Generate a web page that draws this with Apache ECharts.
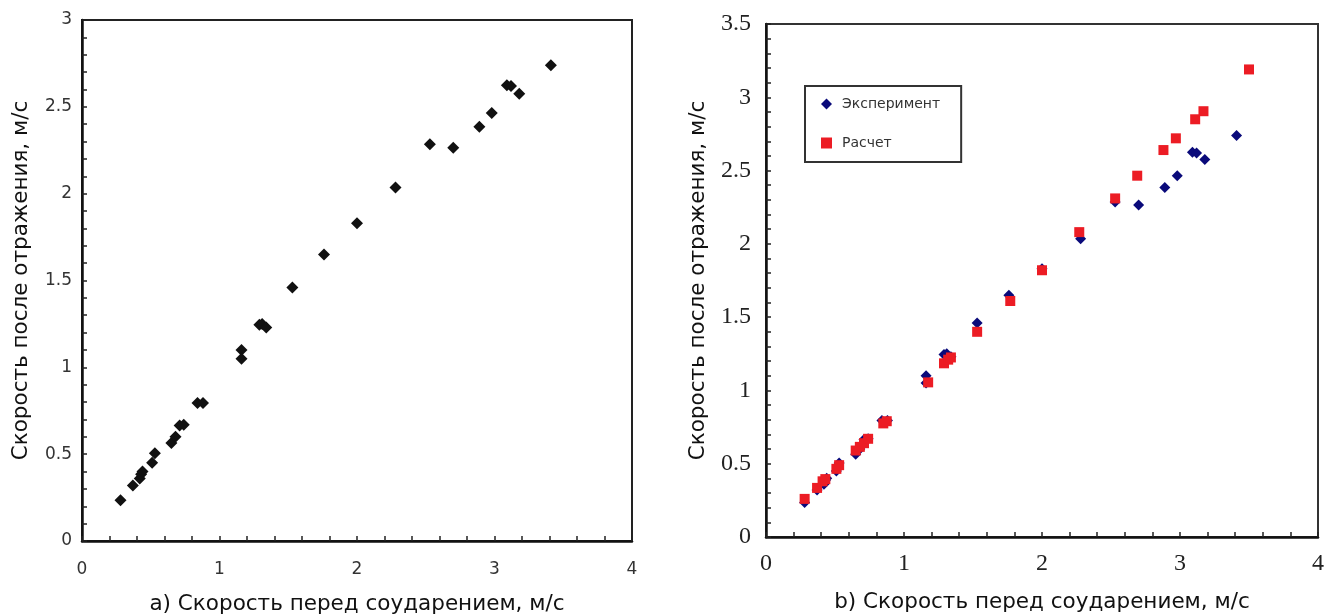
<!DOCTYPE html>
<html>
<head>
<meta charset="utf-8">
<script src="https://cdn.jsdelivr.net/npm/echarts@6/dist/echarts.min.js"></script>
<style>
  html, body { margin: 0; padding: 0; background: #fff; }
  #chart { width: 1324px; height: 614px; }
</style>
</head>
<body>
<div id="chart"></div>
<script>
// экспериментальные точки (одни и те же на обоих графиках)
const expData = [
  [0.28, 0.235], [0.37, 0.32], [0.42, 0.36], [0.43, 0.385], [0.44, 0.40],
  [0.51, 0.45], [0.53, 0.505], [0.65, 0.565], [0.68, 0.60], [0.71, 0.665],
  [0.74, 0.67], [0.84, 0.795], [0.88, 0.795], [1.16, 1.10], [1.16, 1.05],
  [1.29, 1.245], [1.31, 1.25], [1.34, 1.23], [1.53, 1.46], [1.76, 1.65],
  [2.0, 1.83], [2.28, 2.035], [2.53, 2.285], [2.70, 2.265], [2.89, 2.385],
  [2.98, 2.465], [3.09, 2.625], [3.12, 2.62], [3.18, 2.575], [3.41, 2.74]
];

// расчетные точки (только на графике b)
const calcData = [
  [0.28, 0.26], [0.37, 0.335], [0.41, 0.38], [0.43, 0.395], [0.51, 0.465],
  [0.53, 0.49], [0.65, 0.59], [0.68, 0.615], [0.71, 0.64], [0.74, 0.67],
  [0.85, 0.775], [0.875, 0.79], [1.175, 1.055], [1.29, 1.185], [1.32, 1.21],
  [1.34, 1.225], [1.53, 1.40], [1.77, 1.61], [2.0, 1.82], [2.27, 2.08],
  [2.53, 2.31], [2.69, 2.465], [2.88, 2.64], [2.97, 2.72], [3.11, 2.85],
  [3.17, 2.905], [3.50, 3.19]
];

const seriesNames = ['Эксперимент', 'Расчет'];
const xNameA = 'a) Скорость перед соударением, м/с';
const xNameB = 'b) Скорость перед соударением, м/с';
const yName = 'Скорость после отражения, м/с';

const chart = echarts.init(document.getElementById('chart'));

// подписи делений: слева рубленый шрифт, справа Times-подобный
const labelA = { fontFamily: 'DejaVu Sans', fontSize: 17, color: '#333' };
const labelB = { fontFamily: 'Liberation Serif', fontSize: 24, color: '#222' };

function xAxisOf(gridIndex, name, label, margin, gap) {
  return {
    gridIndex: gridIndex,
    type: 'value',
    min: 0, max: 4, interval: 1,
    name: name,
    nameLocation: 'middle',
    nameGap: gap,
    nameTextStyle: { fontFamily: 'DejaVu Sans', fontSize: 21.5, color: '#111' },
    axisLine: { lineStyle: { color: '#111', width: 2.5 } },
    axisTick: { inside: true, length: 5, lineStyle: { color: '#222', width: 1.5 } },
    minorTick: { show: true, splitNumber: 5, length: 5, lineStyle: { color: '#222', width: 1.5 } },
    splitLine: { show: false },
    axisLabel: Object.assign({ margin: margin }, label)
  };
}

function yAxisOf(gridIndex, max, label, margin, gap) {
  return {
    gridIndex: gridIndex,
    type: 'value',
    min: 0, max: max, interval: 0.5,
    name: yName,
    nameLocation: 'middle',
    nameGap: gap,
    nameTextStyle: { fontFamily: 'DejaVu Sans', fontSize: 21.5, color: '#111' },
    axisLine: { lineStyle: { color: '#111', width: 2.5 } },
    axisTick: { inside: true, length: 5, lineStyle: { color: '#222', width: 1.5 } },
    minorTick: { show: true, splitNumber: 5, length: 5, lineStyle: { color: '#222', width: 1.5 } },
    splitLine: { show: false },
    axisLabel: Object.assign({ margin: margin }, label)
  };
}

chart.setOption({
  animation: false,
  backgroundColor: '#fff',
  grid: [
    { left: 82, top: 20, width: 550, height: 521, outerBoundsMode: 'none', show: true, borderColor: '#222', borderWidth: 2 },
    { left: 766, top: 24, width: 552, height: 513, outerBoundsMode: 'none', show: true, borderColor: '#333', borderWidth: 2 }
  ],
  xAxis: [
    xAxisOf(0, xNameA, labelA, 20, 52),
    xAxisOf(1, xNameB, labelB, 15, 54)
  ],
  yAxis: [
    yAxisOf(0, 3, labelA, 10, 50),
    yAxisOf(1, 3.5, labelB, 15, 57)
  ],
  legend: {
    left: 805, top: 86,
    orient: 'vertical',
    data: [
      { name: seriesNames[0], icon: 'diamond' },
      { name: seriesNames[1], icon: 'rect' }
    ],
    itemWidth: 11, itemHeight: 11, itemGap: 25,
    padding: [11, 21, 12, 16],
    borderColor: '#333', borderWidth: 2,
    textStyle: { fontFamily: 'DejaVu Sans', fontSize: 14, color: '#333', padding: [0, 0, 0, 5] }
  },
  series: [
    {
      type: 'scatter', xAxisIndex: 0, yAxisIndex: 0,
      symbol: 'diamond', symbolSize: 12,
      itemStyle: { color: '#111', opacity: 1 },
      data: expData
    },
    {
      name: seriesNames[0],
      type: 'scatter', xAxisIndex: 1, yAxisIndex: 1,
      symbol: 'diamond', symbolSize: 11,
      itemStyle: { color: '#0a0a7a', opacity: 1 },
      data: expData
    },
    {
      name: seriesNames[1],
      type: 'scatter', xAxisIndex: 1, yAxisIndex: 1,
      symbol: 'rect', symbolSize: 10,
      itemStyle: { color: '#ec1c24', opacity: 1 },
      data: calcData
    }
  ]
});
</script>
</body>
</html>
